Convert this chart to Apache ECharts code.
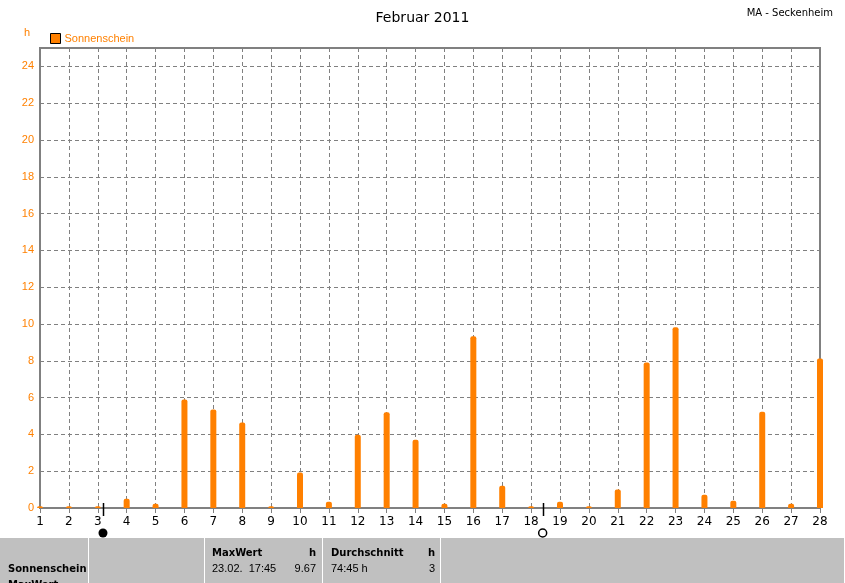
<!DOCTYPE html>
<html>
<head>
<meta charset="utf-8">
<script src="https://cdn.jsdelivr.net/npm/echarts@6/dist/echarts.min.js"></script>
<style>
html,body{margin:0;padding:0;background:#fff;}
#c{width:845px;height:583px;}
</style>
</head>
<body>
<div id="c"></div>
<script>
// ---- data ----
const days = [1,2,3,4,5,6,7,8,9,10,11,12,13,14,15,16,17,18,19,20,21,22,23,24,25,26,27,28];
const sunshine = [0.1,0.1,0.1,0.5,0.23,5.9,5.35,4.65,0.1,1.93,0.34,3.98,5.2,3.71,0.23,9.33,1.21,0.1,0.34,0.1,1.01,7.91,9.82,0.72,0.4,5.23,0.23,8.13];
const yTicks = [0,2,4,6,8,10,12,14,16,18,20,22,24];
const moonDays = [3.18, 18.4];
const moonTypes = ['new', 'full'];
const seriesName = 'Sonnenschein';
const titleText = 'Februar 2011';
const stationText = 'MA - Seckenheim';
const unitText = 'h';
const tableHeaders = ['MaxWert', 'h', 'Durchschnitt', 'h'];
const tableValues = ['23.02.  17:45', '9.67', '74:45 h', '3'];
const tableRowLabels = ['Sonnenschein', 'MaxWert'];

const ORANGE = '#ff8000';
const GREY = '#808080';

const chart = echarts.init(document.getElementById('c'), null, {renderer: 'canvas'});

const option = {
  animation: false,
  backgroundColor: '#ffffff',
  title: [
    {text: titleText, left: 'center', top: 6,
     textStyle: {fontFamily: 'DejaVu Sans', fontSize: 14, fontWeight: 'normal', color: '#000'}},
    {text: stationText, right: 7, top: 3,
     textStyle: {fontFamily: 'DejaVu Sans', fontSize: 10, fontWeight: 'normal', color: '#000'}},
    {text: unitText, left: 19, top: 22,
     textStyle: {fontFamily: 'Liberation Sans', fontSize: 11, fontWeight: 'normal', color: ORANGE}}
  ],
  legend: {
    data: [seriesName], left: 45, top: 28, icon: 'rect', itemWidth: 10, itemHeight: 10, itemGap: 4,
    itemStyle: {color: ORANGE, borderColor: '#000', borderWidth: 1},
    textStyle: {color: ORANGE, fontFamily: 'Liberation Sans', fontSize: 11, padding: [0,0,0,-1]}
  },
  grid: {left: 40, right: 25, top: 48, bottom: 75, show: true, borderColor: GREY, borderWidth: 2, containLabel: false},
  xAxis: {
    type: 'value', min: days[0], max: days[days.length-1], interval: 1,
    axisLine: {show: true, lineStyle: {color: GREY, width: 2}},
    axisTick: {show: true, length: 5, lineStyle: {color: GREY, width: 1}},
    axisLabel: {color: '#000', fontFamily: 'DejaVu Sans', fontSize: 12, margin: 8},
    splitLine: {show: true, lineStyle: {color: GREY, type: [4,3], width: 1}}
  },
  yAxis: {
    type: 'value', min: 0, max: 25, interval: 2,
    axisLine: {show: true, lineStyle: {color: GREY, width: 2}},
    axisTick: {show: false},
    axisLabel: {color: ORANGE, fontFamily: 'Liberation Sans', fontSize: 11, margin: 6,
      formatter: v => (yTicks.indexOf(v) >= 0 ? String(v) : '')},
    splitLine: {show: true, lineStyle: {color: GREY, type: [4,3], width: 1}}
  },
  series: [{
    name: seriesName, type: 'bar', barWidth: 6, clip: true,
    itemStyle: {color: ORANGE, borderRadius: [2,2,0,0]},
    data: days.map((d, i) => [d, sunshine[i]])
  }]
};
chart.setOption(option);

// moon phase markers and table
const W = 845, H = 583;
const elements = [];
moonDays.forEach((d, i) => {
  const p = chart.convertToPixel({gridIndex: 0}, [d, 0]);
  elements.push({type: 'line', shape: {x1: Math.round(p[0]) + 0.5, y1: p[1] - 5, x2: Math.round(p[0]) + 0.5, y2: p[1] + 8},
    style: {stroke: '#000', lineWidth: 1.5}, z: 100});
  elements.push({type: 'circle', shape: {cx: p[0], cy: p[1] + 25, r: moonTypes[i] === 'new' ? 4.5 : 4},
    style: moonTypes[i] === 'new' ? {fill: '#000'} : {fill: '#fff', stroke: '#000', lineWidth: 1.5}, z: 100});
});
// table background
const tableTop = 538;
elements.push({type: 'rect', shape: {x: 0, y: tableTop, width: W, height: H - tableTop}, style: {fill: '#c0c0c0'}});
[88, 204, 322, 440, 844].forEach(x => {
  elements.push({type: 'rect', shape: {x: x, y: tableTop, width: 1, height: H - tableTop}, style: {fill: '#ffffff'}});
});
const boldFont = 'bold 10px "DejaVu Sans"';
const regFont = '11px "Liberation Sans"';
elements.push({type: 'text', style: {x: 8, y: 569, text: tableRowLabels[0], font: boldFont, fill: '#000', textVerticalAlign: 'middle'}});
elements.push({type: 'text', style: {x: 8, y: 585, text: tableRowLabels[1], font: boldFont, fill: '#000', textVerticalAlign: 'middle'}});
elements.push({type: 'text', style: {x: 212, y: 553, text: tableHeaders[0], font: boldFont, fill: '#000', textVerticalAlign: 'middle'}});
elements.push({type: 'text', style: {x: 316, y: 553, text: tableHeaders[1], font: boldFont, fill: '#000', textAlign: 'right', textVerticalAlign: 'middle'}});
elements.push({type: 'text', style: {x: 331, y: 553, text: tableHeaders[2], font: boldFont, fill: '#000', textVerticalAlign: 'middle'}});
elements.push({type: 'text', style: {x: 435, y: 553, text: tableHeaders[3], font: boldFont, fill: '#000', textAlign: 'right', textVerticalAlign: 'middle'}});
elements.push({type: 'text', style: {x: 212, y: 569, text: tableValues[0], font: regFont, fill: '#000', textVerticalAlign: 'middle'}});
elements.push({type: 'text', style: {x: 316, y: 569, text: tableValues[1], font: regFont, fill: '#000', textAlign: 'right', textVerticalAlign: 'middle'}});
elements.push({type: 'text', style: {x: 331, y: 569, text: tableValues[2], font: regFont, fill: '#000', textVerticalAlign: 'middle'}});
elements.push({type: 'text', style: {x: 435, y: 569, text: tableValues[3], font: regFont, fill: '#000', textAlign: 'right', textVerticalAlign: 'middle'}});
chart.setOption({graphic: {elements: elements}});
</script>
</body>
</html>
